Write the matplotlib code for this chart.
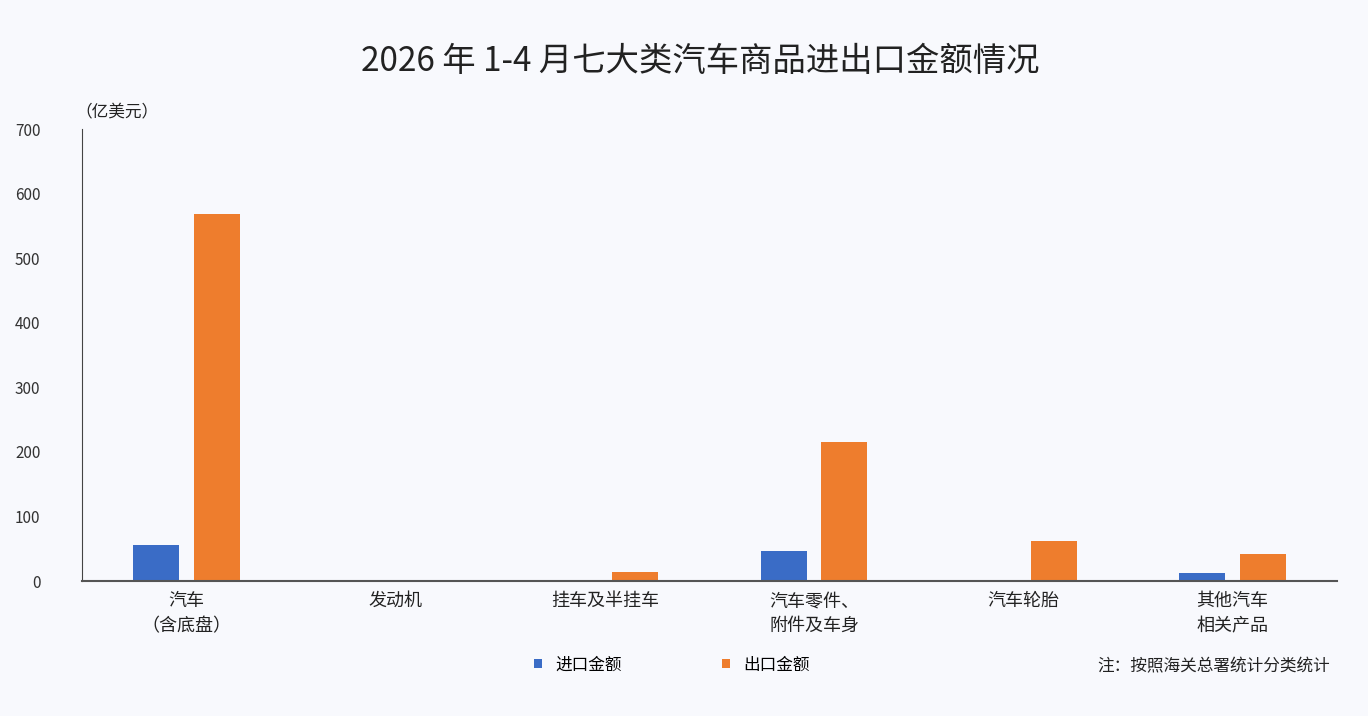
import matplotlib
matplotlib.use("Agg")
import matplotlib.pyplot as plt
import numpy as np

plt.rcParams['font.family'] = ['Noto Sans CJK SC', 'DejaVu Sans']

categories = ["汽车\n（含底盘）", "发动机", "挂车及半挂车", "汽车零件、\n附件及车身", "汽车轮胎", "其他汽车\n相关产品"]
imports = [56, 0, 0, 46, 0, 12]
exports = [568, 2, 14, 215, 62, 42]

bg = "#f8f9fd"
fig = plt.figure(figsize=(13.68, 7.16), dpi=100, facecolor=bg)
ax = fig.add_axes([82 / 1368, 1 - 581 / 716, (1337 - 82) / 1368, (581 - 129) / 716], facecolor=bg)

x = np.arange(len(categories))
w = 0.22
ax.bar(x - 0.145, imports, w, color="#3a6cc6", label="进口金额")
ax.bar(x + 0.145, exports, w, color="#ee7d2d", label="出口金额")

ax.set_xlim(-0.5, len(categories) - 0.5)
ax.set_ylim(0, 700)
ax.set_yticks(range(0, 701, 100))
ax.tick_params(axis='y', length=0, labelsize=11, colors="#333333", pad=30)
ax.tick_params(axis='x', length=0, labelsize=13, colors="#222222", pad=8)
ax.set_xticks(x)
ax.set_xticklabels(categories, linespacing=1.5)
for s in ["top", "right"]:
    ax.spines[s].set_visible(False)
ax.spines["left"].set_color("#444444")
ax.spines["bottom"].set_color("#555555")
ax.spines["bottom"].set_linewidth(1.5)

fig.text(700 / 1368, 1 - 62 / 716, "2026 年 1-4 月七大类汽车商品进出口金额情况",
         ha="center", va="center", fontsize=24, color="#222222")
fig.text(75 / 1368, 1 - 113 / 716, "（亿美元）", ha="left", va="center", fontsize=12, color="#222222")

fig.legend(loc="center", bbox_to_anchor=(672 / 1368, 1 - 665 / 716), ncol=2, frameon=False,
           fontsize=12, handlelength=0.5, handleheight=0.5, columnspacing=6)
fig.text(1330 / 1368, 1 - 667 / 716, "注：按照海关总署统计分类统计", ha="right", va="center",
         fontsize=12, color="#222222")

fig.savefig("out.png", dpi=100, facecolor=bg)
